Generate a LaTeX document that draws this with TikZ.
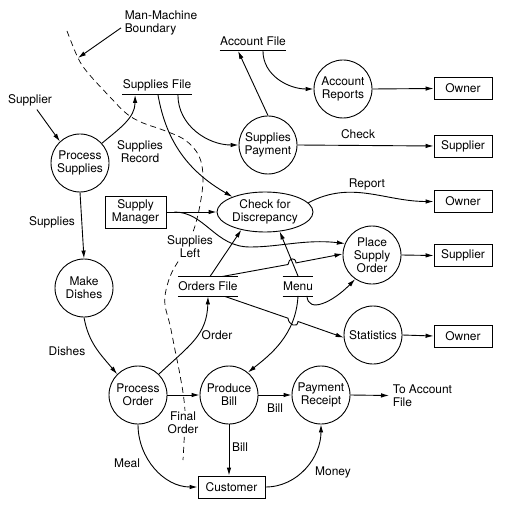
\documentclass[tikz,border=0pt]{standalone}
\usepackage{fontspec}
\setmainfont{TeX Gyre Heros}
\usetikzlibrary{shapes.geometric,arrows.meta}

\begin{document}
\begin{tikzpicture}[x=1bp,y=1bp,
	font=\fontsize{12}{13}\selectfont,
	line width=0.9bp,
	proc/.style={draw, circle, minimum size=58bp, inner sep=0pt, align=center},
	ext/.style={draw, rectangle, minimum width=58bp, minimum height=22bp, inner sep=1pt, align=center},
	store/.style={inner xsep=0pt, inner ysep=0pt, minimum height=19bp},
	lbl/.style={inner sep=1pt, align=center},
	arr/.style={-{Latex[length=8bp,width=4.5bp]}}]
					\useasboundingbox (0,0) rectangle (507,-517);

					%Boundary
					\draw[dash pattern=on 6bp off 4bp, line width=0.7bp] plot[smooth, tension=0.6] coordinates {(67,-31) (78,-58) (88,-73) (110,-97) (127,-114) (143,-123) (163,-130) (185,-140) (199,-156) (203,-178) (200,-205) (193,-232) (182,-255) (172,-272) (166,-290) (165,-305) (170,-325) (175,-350) (180,-375) (184,-400) (185,-420) (183,-460)};
					\node[anchor=north west, align=left] (mmb) at (121,-7) {Man-Machine\\Boundary};
					\coordinate (bdry) at (78,-58);

					%Processes
					\node[proc] (ps) 	at (80,-163) 	{Process\\Supplies};
					\node[proc] (md) 	at (84,-288) 	{Make\\Dishes};
					\node[proc] (po) 	at (138,-395) 	{Process\\Order};
					\node[proc] (pbill) at (229,-395) 	{Produce\\Bill};
					\node[proc] (prec) 	at (321,-395) 	{Payment\\Receipt};
					\node[proc] (spay) 	at (268,-145) 	{Supplies\\Payment};
					\node[proc] (ar) 	at (343,-89) 	{Account\\Reports};
					\node[proc] (pso) 	at (372,-255) 	{Place\\Supply\\Order};
					\node[proc] (stats) at (373,-335) 	{Statistics};
					\node[draw, ellipse, minimum width=96bp, minimum height=40bp, inner sep=0pt, align=center] (chk) at (265,-212) {Check for\\Discrepancy};

					%Externals
					\node[ext] (owner1) at (463,-88.5) 	{Owner};
					\node[ext] (supp1) 	at (463,-146) 	{Supplier};
					\node[ext] (owner2) at (463,-201.5) {Owner};
					\node[ext] (supp2) 	at (463,-255.5) {Supplier};
					\node[ext] (owner3) at (463,-336) 	{Owner};
					\node[ext, minimum width=61bp, minimum height=32bp] (sman) at (135.5,-212) {Supply\\Manager};
					\node[ext, minimum width=67bp] (cust) at (231.5,-487) {Customer};
					\node (supin) at (30,-100) {Supplier};
					\node[anchor=west, align=left] (toacc) at (389,-395.5) {To Account\\File};

					%Stores
					\node[store] (sfile) at (157,-85) 	{Supplies File};
					\node[store] (afile) at (253,-41) 	{Account File};
					\node[store] (ofile) at (208,-286.5) {Orders File};
					\node[store] (menu) 	at (298,-286) 	{Menu};
					\draw (sfile.south west) -- (sfile.south east);
					\draw (afile.south west) -- (afile.south east);
					\draw (ofile.north west) -- (ofile.north east) (ofile.south west) -- (ofile.south east);
					\draw (menu.north west) -- (menu.north east) (menu.south west) -- (menu.south east);

					%Lines
					\draw[arr] ([yshift=-5]mmb.west) -- (bdry);
					\draw[arr] (supin) -- (ps.133);
					\draw[arr] (ps.42) to[out=40,in=-90] ([xshift=-22]sfile.south);
					\draw[arr] ([xshift=1]sfile.south) to[out=-80,in=150] (chk.155);
					\draw[arr] ([xshift=21]sfile.south) to[out=-90,in=180] (spay.west);
					\draw[arr] (spay.north) -- ([xshift=-15]afile.south);
					\draw[arr] ([xshift=10]afile.south) to[out=-90,in=180] (ar.west);
					\draw[arr] (ar.east) -- (owner1.west);
					\draw[arr] (spay.east) -- (supp1.west);
					\draw[arr] (chk.12) to[out=28,in=180] (owner2.west);
					\draw[arr] (sman.east) -- (chk.west);
					\draw[arr] ([xshift=8]sman.east) .. controls (205,-212) and (215,-247) .. (250,-247) .. controls (280,-247) and (305,-239) .. (pso.157);
					\draw[arr] ([xshift=2]ofile.north) -- (chk.217);
					\draw[arr] (menu.north) -- (chk.307);
					\draw[arr] ([xshift=14]ofile.north) -- (288,-264.5) .. controls (288.5,-258) and (295.5,-256.5) .. (296,-262.9) -- (pso.178);
					\draw[arr] ([xshift=17]ofile.south) -- (288,-318.2) .. controls (288.5,-325) and (297.5,-328.5) .. (298,-321.5) -- (stats.185);
					\draw[arr] ([xshift=9]menu.south) .. controls (308,-314) and (333,-302) .. (pso.235);
					\draw[arr] (menu.south) .. controls (296,-335) and (270,-355) .. (pbill.50);
					\draw[arr] (pso.east) -- (supp2.west);
					\draw[arr] (stats.east) -- (owner3.west);
					\draw[arr] (ps.south) -- (md.north);
					\draw[arr] (md.south) to[out=-80,in=130] (po.135);
					\draw[arr] (po.45) .. controls (190,-345) and (207,-335) .. (ofile.south);
					\draw[arr] (po.east) -- (pbill.west);
					\draw[arr] (pbill.east) -- (prec.west);
					\draw[arr] (prec.east) -- (toacc.west);
					\draw[arr] (pbill.south) -- (pbill.south |- cust.north);
					\draw[arr] (po.south) to[out=-90,in=180] (cust.west);
					\draw[arr] (cust.east) to[out=0,in=-90] (prec.south);

					%Labels
					\node[lbl] (lsrec) 	at (140,-152) {Supplies\\Record};
					\node[lbl] (lsup) 	at (52,-222) 	{Supplies};
					\node[lbl, fill=white] (lsleft) at (190,-247) {Supplies\\Left};
					\node[lbl] (ldish) 	at (67,-351) 	{Dishes};
					\node[lbl] (lord) 	at (217,-335) {Order};
					\node[lbl, fill=white] (lfin) at (183,-423) {Final\\Order};
					\node[lbl] (lbill1) at (275,-408) {Bill};
					\node[lbl] (lbill2) at (240,-447) {Bill};
					\node[lbl] (lmeal) 	at (127,-463) {Meal};
					\node[lbl] (lmoney) at (333,-472) {Money};
					\node[lbl] (lcheck) at (358,-134) {Check};
					\node[lbl] (lrep) 	at (367,-184) {Report};

				\end{tikzpicture}
\end{document}
